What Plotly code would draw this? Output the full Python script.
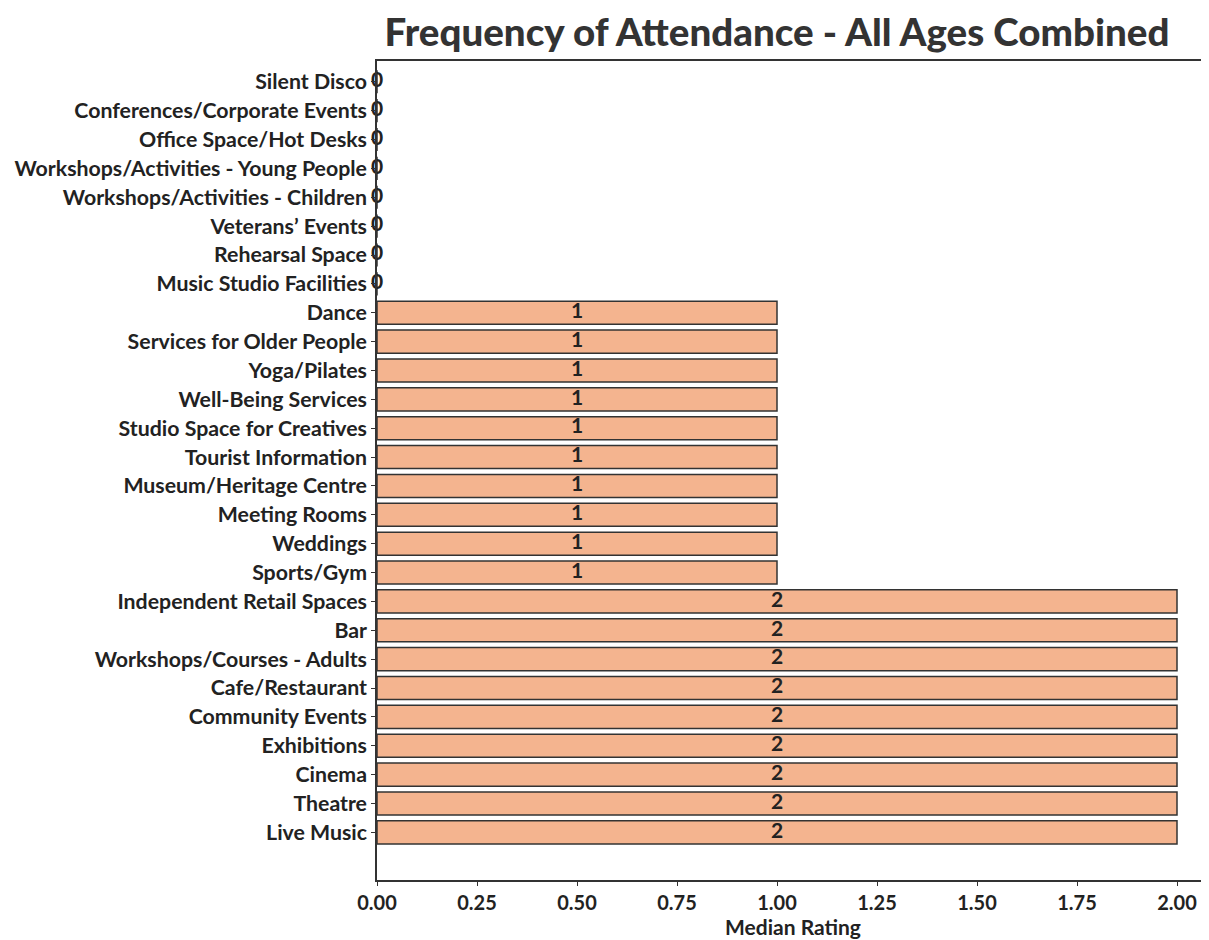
import plotly.graph_objects as go

# categories listed bottom to top, as drawn
categories = [
    "Live Music",
    "Theatre",
    "Cinema",
    "Exhibitions",
    "Community Events",
    "Cafe/Restaurant",
    "Workshops/Courses - Adults",
    "Bar",
    "Independent Retail Spaces",
    "Sports/Gym",
    "Weddings",
    "Meeting Rooms",
    "Museum/Heritage Centre",
    "Tourist Information",
    "Studio Space for Creatives",
    "Well-Being Services",
    "Yoga/Pilates",
    "Services for Older People",
    "Dance",
    "Music Studio Facilities",
    "Rehearsal Space",
    "Veterans\u2019 Events",
    "Workshops/Activities - Children",
    "Workshops/Activities - Young People",
    "Office Space/Hot Desks",
    "Conferences/Corporate Events",
    "Silent Disco",
]
median_rating = [2] * 9 + [1] * 10 + [0] * 8

x_ticks = [0, 0.25, 0.5, 0.75, 1.0, 1.25, 1.5, 1.75, 2.0]

font_family = "Lato, 'Open Sans', sans-serif"
text_color = "#222222"

# the page body adds an 8px margin, so the figure is 8px smaller
W, H = 1201, 932

fig = go.Figure()

fig.add_trace(
    go.Bar(
        x=median_rating,
        y=categories,
        orientation="h",
        width=0.8,
        marker=dict(color="#F4B48F", line=dict(color="#333333", width=1.5)),
        showlegend=False,
    )
)

# value labels in the middle of each bar
fig.add_trace(
    go.Scatter(
        x=[v / 2 for v in median_rating],
        y=categories,
        mode="text",
        text=[str(v) for v in median_rating],
        textfont=dict(family=font_family, size=21, color=text_color, weight="bold"),
        showlegend=False,
        cliponaxis=False,
    )
)

fig.update_layout(
    width=W,
    height=H,
    margin=dict(l=369, r=0, t=53, b=60),
    plot_bgcolor="white",
    paper_bgcolor="white",
    bargap=0.2,
    title=dict(
        text="Frequency of Attendance - All Ages Combined",
        x=769 / W,
        xanchor="center",
        y=1 - 25 / H,
        yanchor="middle",
        font=dict(family=font_family, size=38.5, color="#333333", weight=900),
    ),
    font=dict(family=font_family, color=text_color),
)

fig.update_xaxes(
    range=[0, 2.08],
    automargin=False,
    tickvals=x_ticks,
    tickformat=".2f",
    ticks="outside",
    ticklen=4,
    tickcolor="#333333",
    tickfont=dict(size=20, color=text_color, weight="bold"),
    showgrid=False,
    zeroline=False,
    showline=True,
    linecolor="#333333",
    linewidth=1.5,
    mirror=True,
    title=dict(
        text="Median Rating",
        font=dict(size=21, color=text_color, weight="bold"),
        standoff=8,
    ),
)

fig.update_yaxes(
    categoryorder="array",
    categoryarray=categories,
    range=[-1.65, 26.72],
    automargin=False,
    ticks="outside",
    ticklen=4,
    tickcolor="#333333",
    tickfont=dict(size=21.3, color=text_color, weight="bold"),
    showgrid=False,
    zeroline=False,
    showline=True,
    linecolor="#333333",
    linewidth=1.5,
    mirror=True,
)

fig.write_html("out.html")
